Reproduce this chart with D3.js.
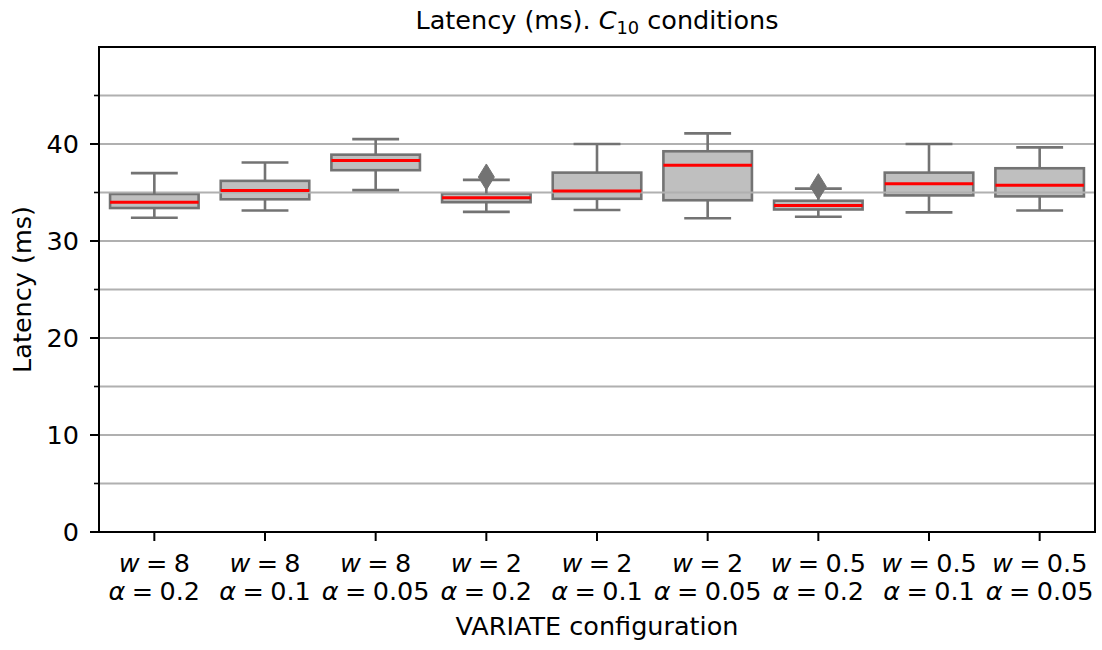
<!DOCTYPE html>
<html>
<head>
<meta charset="utf-8">
<script src="https://cdn.jsdelivr.net/npm/d3@7"></script>
<style>
  html, body { margin: 0; padding: 0; background: #fff; }
  svg { display: block; font-family: "DejaVu Sans", sans-serif; }
</style>
</head>
<body>
<svg id="chart" width="1102" height="650"></svg>
<script>
// ---- Data ----
const wLabels     = ["8", "8", "8", "2", "2", "2", "0.5", "0.5", "0.5"];
const alphaLabels = ["0.2", "0.1", "0.05", "0.2", "0.1", "0.05", "0.2", "0.1", "0.05"];
const whiskerLow  = [32.4, 33.15, 35.25, 33.0, 33.2, 32.35, 32.5, 32.95, 33.15];
const q1          = [33.4, 34.3, 37.3, 34.0, 34.35, 34.2, 33.25, 34.7, 34.6];
const medians     = [34.0, 35.2, 38.3, 34.45, 35.15, 37.8, 33.65, 35.9, 35.75];
const q3          = [34.85, 36.2, 38.9, 34.9, 37.05, 39.25, 34.15, 37.05, 37.5];
const whiskerHigh = [37.0, 38.1, 40.5, 36.3, 40.0, 41.1, 35.4, 40.0, 39.65];
const outliers    = [[], [], [], [36.6], [], [], [35.6], [], []];
const yMajorTicks = [0, 10, 20, 30, 40];
const yMinorTicks = [5, 15, 25, 35, 45];
const yDomain     = [0, 50];

(function () {
// ---- Layout ----
const svg = d3.select("#chart");
const mLeft = 99, mRight = 1095, mTop = 47, mBottom = 532;
const lineGray = "#737373";
const fillGray = "#bfbfbf";
const gridGray = "#b0b0b0";
const fontSize = 25.5;
const sp = "\u2005";

const idx = d3.range(wLabels.length);
const x = d3.scaleBand().domain(idx).range([mLeft, mRight]).padding(0);
const y = d3.scaleLinear().domain(yDomain).range([mBottom, mTop]);
const boxW = x.bandwidth() * 0.8;

const data = idx.map(i => ({
  i, lo: whiskerLow[i], q1: q1[i], med: medians[i], q3: q3[i], hi: whiskerHigh[i], out: outliers[i]
}));

// Boxes (patches, below grid)
svg.append("g").selectAll("rect").data(data).join("rect")
  .attr("x", d => x(d.i) + (x.bandwidth() - boxW) / 2)
  .attr("width", boxW)
  .attr("y", d => y(d.q3))
  .attr("height", d => y(d.q1) - y(d.q3))
  .attr("fill", fillGray)
  .attr("stroke", lineGray)
  .attr("stroke-width", 2.6);

// Grid lines (above patches, below lines)
const gridTicks = yMajorTicks.concat(yMinorTicks).filter(v => v > yDomain[0]);
svg.append("g").selectAll("line").data(gridTicks).join("line")
  .attr("x1", mLeft).attr("x2", mRight)
  .attr("y1", d => y(d)).attr("y2", d => y(d))
  .attr("stroke", gridGray).attr("stroke-width", 2);

// Whiskers, caps, medians, outliers
const g = svg.append("g");
data.forEach(d => {
  const cx = x(d.i) + x.bandwidth() / 2;
  const capW = boxW / 2;
  g.append("line").attr("x1", cx).attr("x2", cx).attr("y1", y(d.q3)).attr("y2", y(d.hi))
    .attr("stroke", lineGray).attr("stroke-width", 2.6);
  g.append("line").attr("x1", cx).attr("x2", cx).attr("y1", y(d.q1)).attr("y2", y(d.lo))
    .attr("stroke", lineGray).attr("stroke-width", 2.6);
  [d.hi, d.lo].forEach(v => {
    g.append("line").attr("x1", cx - capW / 2).attr("x2", cx + capW / 2)
      .attr("y1", y(v)).attr("y2", y(v))
      .attr("stroke", lineGray).attr("stroke-width", 2.6).attr("stroke-linecap", "square");
  });
  g.append("line").attr("x1", cx - boxW / 2).attr("x2", cx + boxW / 2)
    .attr("y1", y(d.med)).attr("y2", y(d.med))
    .attr("stroke", "#ff0000").attr("stroke-width", 3);
  d.out.forEach(v => {
    const oy = y(v), hw = 8, hh = 13;
    g.append("path")
      .attr("d", `M${cx},${oy - hh}L${cx + hw},${oy}L${cx},${oy + hh}L${cx - hw},${oy}Z`)
      .attr("fill", lineGray).attr("stroke", lineGray).attr("stroke-width", 1);
  });
});

// Spines
svg.append("rect").attr("x", mLeft).attr("y", mTop).attr("width", mRight - mLeft).attr("height", mBottom - mTop)
  .attr("fill", "none").attr("stroke", "#000").attr("stroke-width", 2);

// Y axis ticks
const yAxis = svg.append("g");
yMajorTicks.forEach(v => {
  yAxis.append("line").attr("x1", mLeft - 9).attr("x2", mLeft).attr("y1", y(v)).attr("y2", y(v))
    .attr("stroke", "#000").attr("stroke-width", 2);
  yAxis.append("text").attr("x", mLeft - 20).attr("y", y(v)).attr("dy", "0.36em")
    .attr("text-anchor", "end").attr("font-size", fontSize).attr("fill", "#000").text(v);
});
yMinorTicks.forEach(v => {
  yAxis.append("line").attr("x1", mLeft - 5).attr("x2", mLeft).attr("y1", y(v)).attr("y2", y(v))
    .attr("stroke", "#000").attr("stroke-width", 1.6);
});

// X axis ticks and labels
const xAxis = svg.append("g");
idx.forEach(i => {
  const cx = x(i) + x.bandwidth() / 2;
  xAxis.append("line").attr("x1", cx).attr("x2", cx).attr("y1", mBottom).attr("y2", mBottom + 9)
    .attr("stroke", "#000").attr("stroke-width", 2);
  const t1 = xAxis.append("text").attr("x", cx).attr("y", 572).attr("text-anchor", "middle")
    .attr("font-size", fontSize).attr("fill", "#000");
  t1.append("tspan").attr("font-style", "italic").text("w");
  t1.append("tspan").text(sp + "=" + sp + wLabels[i]);
  const t2 = xAxis.append("text").attr("x", cx).attr("y", 600).attr("text-anchor", "middle")
    .attr("font-size", fontSize).attr("fill", "#000");
  t2.append("tspan").attr("font-style", "italic").text("\u03b1");
  t2.append("tspan").text(sp + "=" + sp + alphaLabels[i]);
});

// Axis labels
svg.append("text").attr("x", (mLeft + mRight) / 2).attr("y", 635).attr("text-anchor", "middle")
  .attr("font-size", fontSize).attr("fill", "#000").text("VARIATE configuration");
svg.append("text").attr("transform", `translate(31,${(mTop + mBottom) / 2}) rotate(-90)`)
  .attr("text-anchor", "middle").attr("font-size", fontSize).attr("fill", "#000").text("Latency (ms)");

// Title
const title = svg.append("text").attr("x", (mLeft + mRight) / 2).attr("y", 28.5).attr("text-anchor", "middle")
  .attr("font-size", fontSize).attr("fill", "#000");
title.append("tspan").text("Latency (ms). ");
title.append("tspan").attr("font-style", "italic").text("C");
title.append("tspan").attr("font-size", fontSize * 0.7).attr("dy", 5).text("10");
title.append("tspan").attr("dy", -5).text(" conditions");
})();
</script>
</body>
</html>
